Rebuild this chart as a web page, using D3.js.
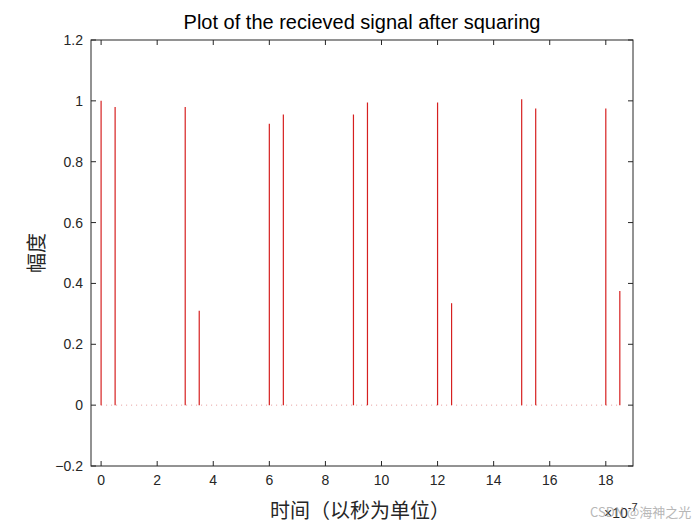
<!DOCTYPE html><html><head><meta charset="utf-8"><script src="https://cdn.jsdelivr.net/npm/d3@7"></script>
<style>body{margin:0;background:#fff}</style></head><body><svg id="c" width="700" height="525"></svg><script>
const times=[0,0.5,3,3.5,6,6.5,9,9.5,12,12.5,15,15.5,18,18.5];
const amps=[1.0,0.98,0.98,0.31,0.925,0.955,0.955,0.995,0.995,0.335,1.005,0.975,0.975,0.375];
const xTicks=[0,2,4,6,8,10,12,14,16,18];
const yTicks=[-0.2,0,0.2,0.4,0.6,0.8,1,1.2];
const svg=d3.select("#c");
const L=91,R=633,T=40,B=466;
const x=d3.scaleLinear().domain([-0.36,18.97]).range([L,R]);
const y=d3.scaleLinear().domain([-0.2,1.2]).range([B,T]);
const f="Arial, 'Liberation Sans', sans-serif";
svg.append("rect").attr("x",L).attr("y",T).attr("width",R-L).attr("height",B-T).attr("fill","#fff");
// faint dotted baseline
svg.append("line").attr("x1",x(0)).attr("x2",x(18.5)).attr("y1",y(0)).attr("y2",y(0)).attr("stroke","#e08080").attr("stroke-width",0.8).attr("stroke-dasharray","1,4");
svg.selectAll(".s").data(times).join("line").attr("x1",d=>x(d)).attr("x2",d=>x(d)).attr("y1",y(0)).attr("y2",(d,i)=>y(amps[i])).attr("stroke","#d62020").attr("stroke-width",1.2);
const g=svg.append("g").attr("font-family",f).attr("font-size",14).attr("fill","#262626");
const ax="#262626";
svg.append("rect").attr("x",L).attr("y",T).attr("width",R-L).attr("height",B-T).attr("fill","none").attr("stroke",ax).attr("stroke-width",1);
xTicks.forEach(t=>{const X=x(t);
 svg.append("line").attr("x1",X).attr("x2",X).attr("y1",B).attr("y2",B-5).attr("stroke",ax);
 svg.append("line").attr("x1",X).attr("x2",X).attr("y1",T).attr("y2",T+5).attr("stroke",ax);
 g.append("text").attr("x",X).attr("y",B+19).attr("text-anchor","middle").text(t);});
yTicks.forEach(t=>{const Y=y(t);
 svg.append("line").attr("x1",L).attr("x2",L+5).attr("y1",Y).attr("y2",Y).attr("stroke",ax);
 svg.append("line").attr("x1",R).attr("x2",R-5).attr("y1",Y).attr("y2",Y).attr("stroke",ax);
 g.append("text").attr("x",L-8).attr("y",Y+5).attr("text-anchor","end").text(d3.format("")(+t.toFixed(1)));});
svg.append("text").attr("x",362).attr("y",29).attr("text-anchor","middle").attr("font-family",f).attr("font-size",20).attr("fill","#000").text("Plot of the recieved signal after squaring");
svg.append("text").attr("x",360).attr("y",518).attr("text-anchor","middle").attr("font-family","'Noto Sans CJK SC'").attr("font-size",20).attr("fill","#262626").text("时间（以秒为单位）");
svg.append("text").attr("transform","translate(44,253) rotate(-90)").attr("text-anchor","middle").attr("font-family","'Noto Sans CJK SC'").attr("font-size",20).attr("fill","#262626").text("幅度");
const e=svg.append("text").attr("x",604).attr("y",518).attr("font-family",f).attr("font-size",14).attr("fill","#262626");
e.append("tspan").text("×10");e.append("tspan").attr("dy",-7).attr("font-size",11).text("-7");
svg.append("text").attr("x",590).attr("y",517).attr("font-family","'Noto Sans CJK SC'").attr("font-size",13).attr("fill","#999").attr("opacity",0.7).text("CSDN @海神之光");
</script></body></html>
